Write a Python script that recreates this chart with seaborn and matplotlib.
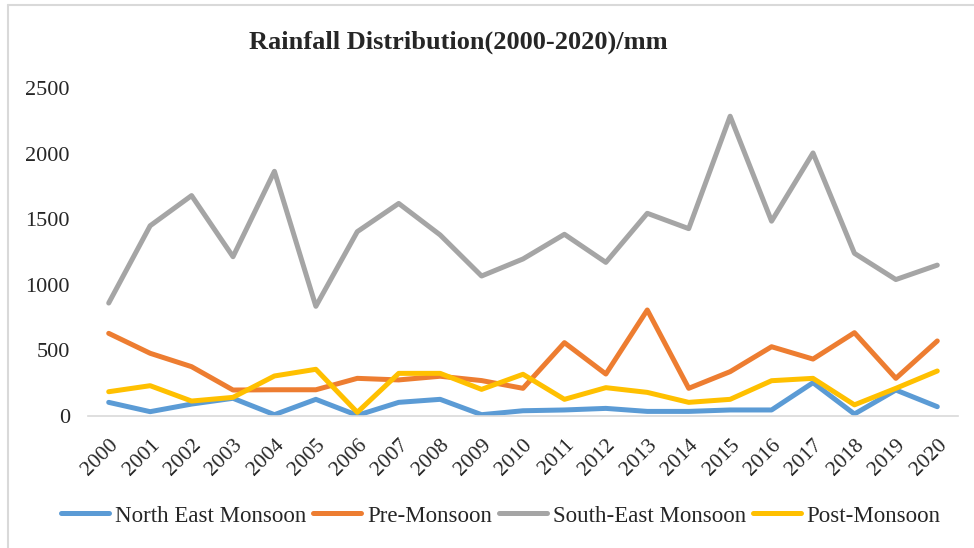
import matplotlib
matplotlib.use("Agg")
import matplotlib.pyplot as plt
from matplotlib.lines import Line2D
import pandas as pd
import seaborn as sns

years = list(range(2000, 2021))
north_east = [104, 33, 91, 135, 10, 127, 5, 104, 127, 10, 40, 46, 58, 35, 35, 46, 46, 254, 15, 198, 71]
pre_monsoon = [630, 478, 376, 198, 200, 200, 287, 275, 303, 270, 211, 559, 320, 808, 211, 338, 528, 434, 635, 287, 572]
south_east = [861, 1450, 1680, 1214, 1865, 836, 1405, 1620, 1380, 1067, 1197, 1385, 1171, 1545, 1428, 2285, 1485, 2005, 1240, 1040, 1150]
post_monsoon = [185, 231, 114, 142, 305, 356, 28, 325, 325, 203, 318, 127, 216, 180, 104, 127, 269, 287, 85, 211, 343]

series_names = ["North East Monsoon", "Pre-Monsoon", "South-East Monsoon", "Post-Monsoon"]
series_colors = ["#5B9BD5", "#ED7D31", "#A5A5A5", "#FFC000"]

df = pd.DataFrame({
    "Year": years,
    series_names[0]: north_east,
    series_names[1]: pre_monsoon,
    series_names[2]: south_east,
    series_names[3]: post_monsoon,
}).melt(id_vars="Year", var_name="Season", value_name="Rainfall")

sns.set_style("white")
plt.rcParams["font.family"] = ["Liberation Serif", "DejaVu Serif"]

fig = plt.figure(figsize=(9.74, 5.48), dpi=100)
ax = fig.add_axes([88 / 974, 1 - 416 / 548, 870 / 974, 328 / 548])

sns.lineplot(data=df, x="Year", y="Rainfall", hue="Season", hue_order=series_names,
             palette=dict(zip(series_names, series_colors)), linewidth=3.6,
             ax=ax, legend=False)

ax.set_xlim(1999.5, 2020.5)
ax.set_ylim(0, 2500)
ax.set_yticks([0, 500, 1000, 1500, 2000, 2500])
ax.set_xticks(years)
ax.set_xticklabels([str(y) for y in years], rotation=45, ha="right",
                   rotation_mode="anchor", fontsize=15.5)
ax.tick_params(axis="y", labelsize=16, length=0, pad=13)
ax.tick_params(axis="x", length=0, pad=14)
ax.set_xlabel("")
ax.set_ylabel("")
for side in ["top", "right", "left"]:
    ax.spines[side].set_visible(False)
ax.spines["bottom"].set_color("#D9D9D9")
ax.spines["bottom"].set_linewidth(1.2)
ax.grid(False)

fig.text(458 / 974, 1 - 42 / 548, "Rainfall Distribution(2000-2020)/mm",
         ha="center", va="center", fontsize=19, fontweight="bold")

handles = [Line2D([0], [0], color=c, lw=3.6) for c in series_colors]
fig.legend(handles, series_names, loc="center", bbox_to_anchor=(501 / 974, 1 - 516 / 548),
           ncol=4, frameon=False, fontsize=16.5, handlelength=2.1, handletextpad=0.25,
           columnspacing=0.3)

# light chart-area border along the top and left edges
fig.add_artist(Line2D([8 / 974, 1.0], [1 - 5 / 548, 1 - 5 / 548], transform=fig.transFigure,
                      color="#D9D9D9", lw=1.5))
fig.add_artist(Line2D([8 / 974, 8 / 974], [0, 1 - 5 / 548], transform=fig.transFigure,
                      color="#D9D9D9", lw=1.5))

fig.savefig("out.png", dpi=100)
